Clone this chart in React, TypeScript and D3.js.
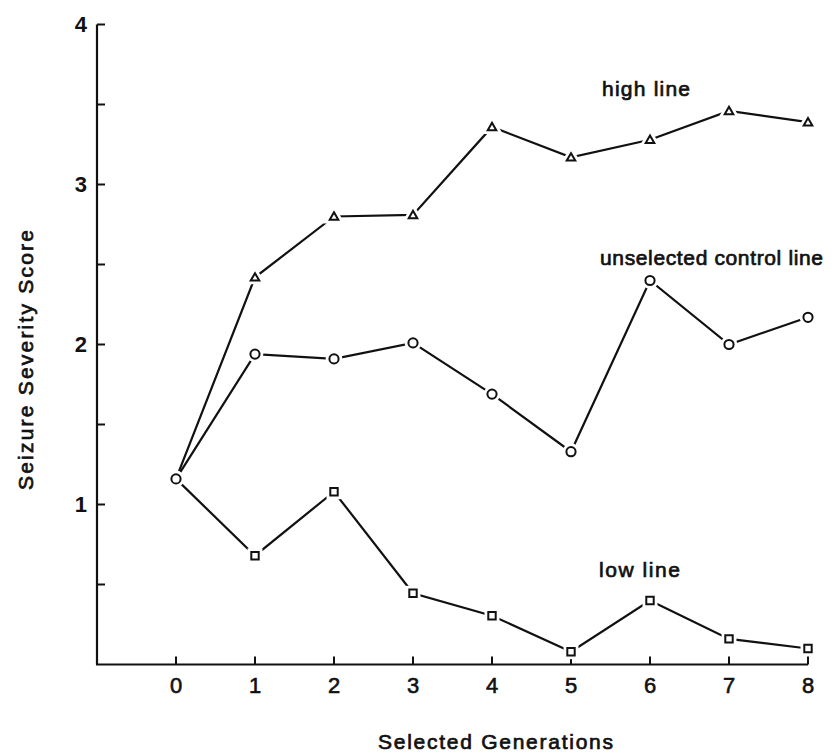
import React from "react";
import * as d3 from "d3";

const generations = [0, 1, 2, 3, 4, 5, 6, 7, 8];
const highLine = [1.16, 2.42, 2.8, 2.81, 3.36, 3.17, 3.28, 3.46, 3.39];
const controlLine = [1.16, 1.94, 1.91, 2.01, 1.69, 1.33, 2.4, 2.0, 2.17];
const lowLine = [1.16, 0.68, 1.08, 0.445, 0.305, 0.08, 0.4, 0.16, 0.1];
const yTickLabels = [1, 2, 3, 4];
const yMinorTicks = [0.5, 1, 1.5, 2, 2.5, 3, 3.5, 4];
const xTickLabels = ["0", "1", "2", "3", "4", "5", "6", "7", "8"];

const W = 837;
const H = 755;
const FONT = "'Liberation Sans', Arial, sans-serif";

export default function App() {
  const x = d3.scaleLinear().domain([-1, 8]).range([97, 808]);
  const y = d3.scaleLinear().domain([0, 4]).range([664.5, 24.5]);
  const line = d3
    .line<number>()
    .x((_, i) => x(generations[i]))
    .y((d) => y(d));

  const tri = d3.symbol().type(d3.symbolTriangle).size(32)()!;
  const sq = d3.symbol().type(d3.symbolSquare).size(55)()!;

  const markers = (vals: number[], kind: string, start: number) =>
    vals.map((v, i) => {
      if (i < start) return null;
      const cx = x(generations[i]);
      const cy = y(v);
      const shape =
        kind === "circle" ? (
          <circle r={4.6} />
        ) : kind === "tri" ? (
          <path d={tri} transform="translate(0,0.8)" />
        ) : (
          <path d={sq} />
        );
      return (
        <g key={kind + i} transform={`translate(${cx},${cy})`}>
          <g fill="white" stroke="white" strokeWidth={7.5}>
            {shape}
          </g>
          <g fill="white" stroke="#111" strokeWidth={2}>
            {shape}
          </g>
        </g>
      );
    });

  return (
    <svg
      width={W}
      height={H}
      style={{ position: "absolute", left: 0, top: 0, background: "white" }}
      fontFamily={FONT}
    >
      <rect width={W} height={H} fill="white" />
      {/* axes */}
      <line x1={x(-1)} x2={x(-1)} y1={y(4)} y2={y(0)} stroke="#111" strokeWidth={2.2} />
      <line x1={x(-1) - 1} x2={x(8)} y1={y(0)} y2={y(0)} stroke="#111" strokeWidth={2.2} />
      {yMinorTicks.map((t) => (
        <line key={"yt" + t} x1={x(-1)} x2={x(-1) + 8} y1={y(t)} y2={y(t)} stroke="#111" strokeWidth={2} />
      ))}
      {generations.map((g) => (
        <line key={"xt" + g} x1={x(g)} x2={x(g)} y1={y(0)} y2={y(0) - 8} stroke="#111" strokeWidth={2} />
      ))}
      {yTickLabels.map((t) => (
        <text key={"yl" + t} x={87} y={y(t)} dy="0.36em" textAnchor="end" fontSize={22} fontWeight="bold" fill="#111">
          {t}
        </text>
      ))}
      {xTickLabels.map((t, i) => (
        <text key={"xl" + t} x={x(generations[i])} y={693} textAnchor="middle" fontSize={22} fill="#111" stroke="#111" strokeWidth={0.6}>
          {t}
        </text>
      ))}
      {/* axis titles */}
      <text
        x={378}
        y={749}
        fontSize={21}
        textLength={235}
        lengthAdjust="spacing"
        fill="#111"
        stroke="#111"
        strokeWidth={0.7}
      >
        Selected Generations
      </text>
      <text
        transform="translate(33,490) rotate(-90)"
        x={0}
        y={0}
        fontSize={21}
        textLength={260}
        lengthAdjust="spacing"
        fill="#111"
        stroke="#111"
        strokeWidth={0.7}
      >
        Seizure Severity Score
      </text>
      {/* lines */}
      <path d={line(highLine)!} fill="none" stroke="#111" strokeWidth={2.2} />
      <path d={line(controlLine)!} fill="none" stroke="#111" strokeWidth={2.2} />
      <path d={line(lowLine)!} fill="none" stroke="#111" strokeWidth={2.2} />
      {markers(lowLine, "sq", 1)}
      {markers(highLine, "tri", 1)}
      {markers(controlLine, "circle", 0)}
      {/* labels */}
      <text x={602} y={96} fontSize={21} textLength={88} lengthAdjust="spacing" fill="#111" stroke="#111" strokeWidth={0.7}>
        high line
      </text>
      <text x={600} y={265} fontSize={21} textLength={223} lengthAdjust="spacing" fill="#111" stroke="#111" strokeWidth={0.7}>
        unselected control line
      </text>
      <text x={599} y={577} fontSize={21} textLength={81} lengthAdjust="spacing" fill="#111" stroke="#111" strokeWidth={0.7}>
        low line
      </text>
    </svg>
  );
}
